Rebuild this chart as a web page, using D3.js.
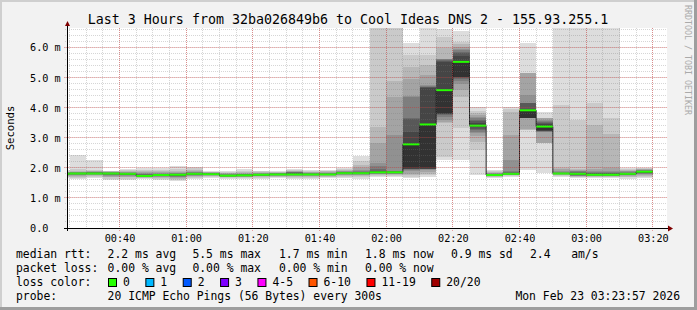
<!DOCTYPE html>
<html>
<head>
<meta charset="utf-8">
<script src="https://cdn.jsdelivr.net/npm/d3@7"></script>
<style>
  body { margin: 0; background: #f2f2f2; }
  text { font-family: "DejaVu Sans Mono", monospace; }
</style>
</head>
<body>
<svg id="chart" width="697" height="310"></svg>
<script>

// 5 minute bins, labelled by their end time
var binEnd = ["00:25","00:30","00:35","00:40","00:45","00:50","00:55","01:00","01:05","01:10","01:15","01:20",
	"01:25","01:30","01:35","01:40","01:45","01:50","01:55","02:00","02:05","02:10","02:15","02:20",
	"02:25","02:30","02:35","02:40","02:45","02:50","02:55","03:00","03:05","03:10","03:15","03:20"];

// median rtt per bin (ms)
var medianRtt = [1.80,1.81,1.81,1.81,1.80,1.73,1.76,1.77,1.80,1.79,1.74,1.75,
	1.77,1.78,1.78,1.78,1.78,1.82,1.82,1.85,1.85,2.78,3.44,4.58,
	5.52,3.40,1.76,1.80,3.91,3.37,1.81,1.80,1.77,1.77,1.80,1.87];

// lost pings per bin (out of 20)
var lossCount = [0,0,0,0,0,0,0,0,0,0,0,0,0,0,0,0,0,0,0,0,0,0,0,0,0,0,0,0,0,0,0,0,0,0,0,0];

// the 20 sorted ping times of each bin (ms)
var pingsSorted = [
	[1.66,1.70,1.72,1.74,1.76,1.77,1.78,1.79,1.79,1.80,1.80,1.81,1.82,1.83,1.84,1.85,1.86,1.87,1.88,1.92],
	[1.64,1.67,1.70,1.73,1.75,1.77,1.78,1.79,1.80,1.81,1.81,1.82,1.83,1.84,1.85,1.86,1.87,1.89,1.97,2.41],
	[1.66,1.70,1.73,1.75,1.77,1.78,1.79,1.80,1.81,1.81,1.82,1.83,1.84,1.85,1.86,1.87,1.88,1.90,1.94,2.27],
	[1.58,1.63,1.68,1.71,1.74,1.76,1.77,1.78,1.79,1.80,1.81,1.82,1.83,1.84,1.85,1.86,1.87,1.88,1.89,1.90],
	[1.60,1.64,1.68,1.71,1.73,1.75,1.76,1.77,1.78,1.79,1.80,1.81,1.82,1.83,1.84,1.85,1.87,1.89,1.92,1.97],
	[1.62,1.65,1.67,1.69,1.70,1.71,1.72,1.73,1.73,1.73,1.74,1.75,1.76,1.78,1.80,1.83,1.86,1.89,1.93,1.99],
	[1.60,1.64,1.67,1.69,1.71,1.72,1.73,1.74,1.75,1.76,1.76,1.77,1.78,1.79,1.81,1.83,1.86,1.89,1.94,2.00],
	[1.57,1.60,1.63,1.66,1.68,1.70,1.72,1.74,1.75,1.76,1.77,1.78,1.79,1.80,1.82,1.84,1.87,1.91,1.97,2.07],
	[1.62,1.66,1.69,1.72,1.74,1.76,1.77,1.78,1.79,1.80,1.80,1.81,1.82,1.83,1.85,1.87,1.90,1.93,1.98,2.04],
	[1.66,1.70,1.72,1.74,1.75,1.76,1.77,1.78,1.79,1.79,1.79,1.80,1.81,1.82,1.83,1.84,1.85,1.86,1.87,1.88],
	[1.63,1.66,1.68,1.70,1.71,1.72,1.73,1.73,1.74,1.74,1.74,1.75,1.76,1.77,1.78,1.80,1.82,1.84,1.86,1.88],
	[1.62,1.65,1.68,1.70,1.71,1.72,1.73,1.74,1.74,1.75,1.75,1.76,1.77,1.78,1.79,1.81,1.84,1.87,1.91,1.96],
	[1.64,1.67,1.70,1.72,1.73,1.74,1.75,1.76,1.76,1.77,1.77,1.78,1.79,1.80,1.81,1.82,1.84,1.86,1.88,1.91],
	[1.65,1.68,1.71,1.73,1.74,1.75,1.76,1.77,1.77,1.78,1.78,1.79,1.80,1.81,1.82,1.83,1.84,1.85,1.86,1.88],
	[1.64,1.67,1.70,1.72,1.74,1.75,1.76,1.77,1.78,1.78,1.78,1.80,1.83,1.85,1.86,1.87,1.88,1.90,1.93,1.96],
	[1.64,1.67,1.70,1.72,1.74,1.75,1.76,1.77,1.78,1.78,1.78,1.79,1.80,1.81,1.82,1.83,1.85,1.87,1.89,1.92],
	[1.65,1.68,1.71,1.73,1.75,1.76,1.77,1.77,1.78,1.78,1.78,1.79,1.80,1.81,1.82,1.84,1.86,1.88,1.90,1.93],
	[1.65,1.69,1.72,1.75,1.77,1.78,1.79,1.80,1.81,1.82,1.82,1.83,1.84,1.85,1.86,1.88,1.90,1.93,1.96,2.00],
	[1.64,1.68,1.72,1.75,1.77,1.78,1.79,1.80,1.81,1.82,1.82,1.83,1.84,1.86,1.88,1.92,1.98,2.08,2.22,2.38],
	[1.70,1.74,1.77,1.79,1.80,1.81,1.82,1.83,1.84,1.85,1.85,1.87,1.90,1.95,2.05,2.15,2.81,3.36,7.50,9.00],
	[1.70,1.74,1.77,1.79,1.80,1.81,1.82,1.83,1.84,1.85,1.85,1.86,1.87,1.88,1.90,3.09,4.36,4.90,7.50,9.00],
	[1.65,1.70,1.75,1.78,1.90,1.93,1.95,1.96,1.97,1.98,2.78,3.20,3.62,3.66,4.34,4.40,4.95,5.36,5.75,6.14],
	[1.70,1.75,1.80,1.85,1.92,1.95,1.96,1.97,1.97,1.98,3.44,4.65,4.68,4.70,4.72,4.75,5.10,5.40,5.76,7.50],
	[2.26,2.37,3.50,3.53,3.60,3.70,3.75,3.78,3.80,3.81,4.58,5.50,5.55,5.58,5.60,5.62,5.63,5.97,6.36,6.62],
	[2.26,3.31,4.36,4.60,4.80,4.90,4.95,5.00,5.02,5.03,5.52,5.70,5.80,5.86,5.90,5.95,6.00,6.10,6.19,6.54],
	[1.77,2.59,2.85,3.05,3.15,3.20,3.25,3.30,3.35,3.38,3.42,3.50,3.55,3.60,3.65,3.70,3.75,3.81,3.90,4.03],
	[1.65,1.68,1.70,1.72,1.73,1.74,1.75,1.75,1.76,1.76,1.76,1.77,1.78,1.79,1.80,1.82,1.84,1.87,1.90,1.93],
	[1.68,1.72,1.75,1.77,1.78,1.79,1.79,1.80,1.80,1.80,1.81,1.82,1.84,1.86,1.90,2.26,3.09,3.87,3.95,4.03],
	[1.94,3.27,3.27,3.28,3.64,3.64,3.65,3.65,3.65,3.65,3.91,3.93,4.15,4.15,4.16,4.43,5.15,5.15,5.16,6.14],
	[1.83,2.82,2.83,2.84,3.18,3.20,3.21,3.22,3.23,3.25,3.37,3.45,3.50,3.52,3.55,3.60,3.64,3.65,3.66,3.87],
	[1.68,1.72,1.75,1.77,1.78,1.79,1.80,1.80,1.81,1.81,1.81,1.82,1.83,1.84,1.86,1.90,1.95,1.99,4.10,7.50],
	[1.66,1.68,1.70,1.72,1.73,1.74,1.75,1.76,1.77,1.78,1.80,1.82,1.84,1.86,1.88,1.90,1.92,1.95,3.60,7.50],
	[1.66,1.69,1.71,1.73,1.74,1.75,1.76,1.77,1.77,1.78,1.79,1.80,1.82,1.84,1.86,1.90,1.95,3.43,4.16,7.50],
	[1.66,1.69,1.71,1.73,1.74,1.75,1.76,1.77,1.77,1.78,1.79,1.80,1.82,1.84,1.86,1.90,1.98,3.12,3.65,7.50],
	[1.64,1.68,1.71,1.73,1.75,1.76,1.77,1.78,1.79,1.80,1.80,1.81,1.82,1.84,1.86,1.88,1.91,1.94,1.97,2.00],
	[1.65,1.70,1.74,1.77,1.79,1.81,1.82,1.83,1.84,1.85,1.86,1.87,1.88,1.90,1.92,1.94,1.96,1.97,1.99,2.00]
];

var yTicks = [0, 1, 2, 3, 4, 5, 6];
var yTickLabels = ["0.0", "1.0 m", "2.0 m", "3.0 m", "4.0 m", "5.0 m", "6.0 m"];
var xTickLabels = ["00:40","01:00","01:20","01:40","02:00","02:20","02:40","03:00","03:20"];

var lossLabels = ["0", "1", "2", "3", "4-5", "6-10", "11-19", "20/20"];
var lossColors = ["#26ff00", "#00b8ff", "#0059ff", "#7e00ff", "#ff00ff", "#ff5500", "#ff0000", "#a00000"];

var rttStats = ["2.2 ms avg", "5.5 ms max", "1.7 ms min", "1.8 ms now", "0.9 ms sd", "2.4   am/s"];
var lossStats = ["0.00 % avg", "0.00 % max", "0.00 % min", "0.00 % now"];

var title = "Last 3 Hours from 32ba026849b6 to Cool Ideas DNS 2 - 155.93.255.1";
var probeText = "20 ICMP Echo Pings (56 Bytes) every 300s";
var stamp = "Mon Feb 23 03:23:57 2026";


var svg = d3.select("#chart");
var parseHM = d3.timeParse("%H:%M");
var parseHMS = d3.timeParse("%H:%M:%S");

var plotL = 67, plotR = 667, plotT = 28, plotB = 228;

var x = d3.scaleTime()
	.domain([parseHMS("00:24:15"), parseHMS("03:24:15")])
	.range([plotL, plotR]);
var y = d3.scaleLinear()
	.domain([0, 6.645])
	.range([plotB, plotT]);

// frame
svg.append("rect").attr("width", 697).attr("height", 310).attr("fill", "#f2f2f2");
svg.append("rect").attr("x", 0).attr("y", 0).attr("width", 697).attr("height", 2).attr("fill", "#cfcfcf");
svg.append("rect").attr("x", 0).attr("y", 0).attr("width", 2).attr("height", 310).attr("fill", "#cfcfcf");
svg.append("rect").attr("x", 0).attr("y", 307).attr("width", 697).attr("height", 3).attr("fill", "#9e9e9e");
svg.append("rect").attr("x", 694).attr("y", 0).attr("width", 3).attr("height", 310).attr("fill", "#9e9e9e");

svg.append("rect")
	.attr("x", plotL).attr("y", plotT)
	.attr("width", plotR - plotL).attr("height", plotB - plotT)
	.attr("fill", "#ffffff");

svg.append("clipPath").attr("id", "plotclip")
	.append("rect")
	.attr("x", plotL).attr("y", plotT)
	.attr("width", plotR - plotL).attr("height", plotB - plotT);

// smoke: nested bands between ping k and ping 21-k
var bins = binEnd.map(function (t, i) {
	var end = parseHM(t);
	return { start: d3.timeMinute.offset(end, -5), end: end, pings: pingsSorted[i], median: medianRtt[i], loss: lossCount[i] };
});

var bands = [];
bins.forEach(function (b) {
	for (var k = 1; k <= 10; k++) {
		bands.push({ bin: b, k: k, lo: b.pings[k - 1], hi: b.pings[20 - k] });
	}
});

function shade(k) {
	var c = Math.floor(190 / 10 * (10 - k)) + 50;
	return d3.rgb(c, c, c).toString();
}

var plot = svg.append("g").attr("clip-path", "url(#plotclip)");

plot.selectAll("rect.smoke")
	.data(bands)
	.enter()
	.append("rect")
	.attr("class", "smoke")
	.attr("x", function (d) { return x(d.bin.start); })
	.attr("width", function (d) { return x(d.bin.end) - x(d.bin.start); })
	.attr("y", function (d) { return y(d.hi); })
	.attr("height", function (d) { return Math.max(0, y(d.lo) - y(d.hi)); })
	.attr("fill", function (d) { return shade(d.k); })
	.attr("shape-rendering", "crispEdges");

// grid over the smoke, translucent like rrdtool's
var minorCol = "rgba(120,120,120,0.3)";
var majorCol = "rgba(220,40,40,0.42)";
var grid = svg.append("g");
var minorX = x.ticks(d3.timeMinute.every(5));
var majorX = x.ticks(d3.timeMinute.every(20));

grid.selectAll("line.vminor")
	.data(minorX)
	.enter()
	.append("line")
	.attr("x1", function (d) { return Math.floor(x(d)) + 0.5; })
	.attr("x2", function (d) { return Math.floor(x(d)) + 0.5; })
	.attr("y1", plotT).attr("y2", plotB + 2)
	.attr("stroke", minorCol)
	.attr("stroke-dasharray", "1,1");

var minorY = d3.range(0.2, 6.645, 0.2);
grid.selectAll("line.hminor")
	.data(minorY)
	.enter()
	.append("line")
	.attr("x1", plotL - 2).attr("x2", plotR)
	.attr("y1", function (d) { return Math.floor(y(d)) + 0.5; })
	.attr("y2", function (d) { return Math.floor(y(d)) + 0.5; })
	.attr("stroke", minorCol)
	.attr("stroke-dasharray", "1,1");

grid.selectAll("line.vmajor")
	.data(majorX)
	.enter()
	.append("line")
	.attr("x1", function (d) { return Math.floor(x(d)) + 0.5; })
	.attr("x2", function (d) { return Math.floor(x(d)) + 0.5; })
	.attr("y1", plotT).attr("y2", plotB + 3)
	.attr("stroke", majorCol)
	.attr("stroke-dasharray", "1,1");

grid.selectAll("line.hmajor")
	.data(yTicks.slice(1))
	.enter()
	.append("line")
	.attr("x1", plotL - 3).attr("x2", plotR)
	.attr("y1", function (d) { return Math.floor(y(d)) + 0.5; })
	.attr("y2", function (d) { return Math.floor(y(d)) + 0.5; })
	.attr("stroke", majorCol)
	.attr("stroke-dasharray", "1,1");

// median: dark step line, then loss coloured segments
var steps = [];
bins.forEach(function (b) {
	steps.push([x(b.start), y(b.median)]);
	steps.push([x(b.end), y(b.median)]);
});

plot.append("path")
	.attr("d", d3.line()(steps))
	.attr("fill", "none")
	.attr("stroke", "#202020")
	.attr("stroke-width", 1);

function lossColor(n) {
	if (n == 0) return lossColors[0];
	if (n == 1) return lossColors[1];
	if (n == 2) return lossColors[2];
	if (n == 3) return lossColors[3];
	if (n <= 5) return lossColors[4];
	if (n <= 10) return lossColors[5];
	if (n <= 19) return lossColors[6];
	return lossColors[7];
}

plot.selectAll("line.median")
	.data(bins)
	.enter()
	.append("line")
	.attr("x1", function (d) { return x(d.start); })
	.attr("x2", function (d) { return x(d.end); })
	.attr("y1", function (d) { return y(d.median); })
	.attr("y2", function (d) { return y(d.median); })
	.attr("stroke", function (d) { return lossColor(d.loss); })
	.attr("stroke-width", 2);

// axes
var yAxis = d3.axisLeft(y)
	.tickValues(yTicks)
	.tickFormat(function (d, i) { return yTickLabels[i]; })
	.tickSize(0);
var gy = svg.append("g").attr("transform", "translate(" + plotL + ",0)").call(yAxis);
gy.select(".domain").remove();
gy.selectAll("text")
	.attr("x", 30 - plotL)
	.attr("dy", "0.35em")
	.attr("text-anchor", "start")
	.attr("font-family", "DejaVu Sans Mono")
	.attr("font-size", 10.2)
	.attr("fill", "#000");

var xAxis = d3.axisBottom(x)
	.tickValues(xTickLabels.map(function (s) { return parseHM(s); }))
	.tickFormat(d3.timeFormat("%H:%M"))
	.tickSize(0);
var gx = svg.append("g").attr("transform", "translate(0," + plotB + ")").call(xAxis);
gx.select(".domain").remove();
gx.selectAll("text")
	.attr("y", 10)
	.attr("dy", "0.35em")
	.attr("font-family", "DejaVu Sans Mono")
	.attr("font-size", 10.2)
	.attr("fill", "#000");

svg.append("line")
	.attr("x1", plotL - 3).attr("x2", plotR + 2)
	.attr("y1", plotB + 0.5).attr("y2", plotB + 0.5)
	.attr("stroke", "#000");
svg.append("line")
	.attr("x1", plotL + 0.5).attr("x2", plotL + 0.5)
	.attr("y1", plotB + 3).attr("y2", plotT - 4)
	.attr("stroke", "#000");
svg.append("path")
	.attr("d", "M" + (plotR + 1) + "," + (plotB - 2.5) + "L" + (plotR + 6) + "," + (plotB + 0.5) + "L" + (plotR + 1) + "," + (plotB + 3.5) + "Z")
	.attr("fill", "#7f0000");
svg.append("path")
	.attr("d", "M" + (plotL - 2) + "," + (plotT - 2) + "L" + (plotL + 0.5) + "," + (plotT - 7) + "L" + (plotL + 3) + "," + (plotT - 2) + "Z")
	.attr("fill", "#7f0000");

// texts
svg.append("text")
	.attr("x", 348).attr("y", 24)
	.attr("text-anchor", "middle")
	.attr("font-size", 13.3)
	.text(title);

svg.append("text")
	.attr("transform", "translate(14,128) rotate(-90)")
	.attr("text-anchor", "middle")
	.attr("font-size", 10.6)
	.text("Seconds");

svg.append("text")
	.attr("transform", "translate(685,5) rotate(90)")
	.attr("font-size", 8.3)
	.attr("fill", "#aaaaaa")
	.text("RRDTOOL / TOBI OETIKER");

var legendFont = 11.4;
var cols = [107.6, 192.4, 279, 365, 451, 530];
var rows = [257.8, 271.7, 285.6, 299.5];

function label(xp, yp, s, anchor) {
	svg.append("text")
		.attr("x", xp).attr("y", yp)
		.attr("font-size", legendFont)
		.attr("text-anchor", anchor || "start")
		.style("white-space", "pre")
		.text(s);
}

label(16, rows[0], "median rtt:");
rttStats.forEach(function (s, i) { label(cols[i], rows[0], s); });

label(16, rows[1], "packet loss:");
lossStats.forEach(function (s, i) { label(cols[i], rows[1], s); });

label(16, rows[2], "loss color:");
var cursor = 108.5;
lossLabels.forEach(function (s, i) {
	svg.append("rect")
		.attr("x", cursor).attr("y", 278.5)
		.attr("width", 8).attr("height", 8)
		.attr("fill", lossColors[i])
		.attr("stroke", "#000")
		.attr("stroke-width", 1);
	label(cursor + 14.5, rows[2], s);
	cursor += 30.5 + s.length * 6.86;
});

label(16, rows[3], "probe:");
label(cols[0], rows[3], probeText);
label(680, rows[3], stamp, "end");

</script>
</body>
</html>
